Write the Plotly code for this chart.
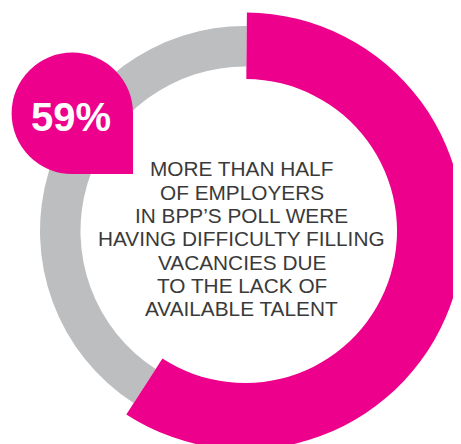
import plotly.graph_objects as go

# ---- data ----
categories = ["Having difficulty", "Other"]
values = [59, 41]
badge_label = "59%"
text_lines = [
    "MORE THAN HALF",
    "OF EMPLOYERS",
    "IN BPP\u2019S POLL WERE",
    "HAVING DIFFICULTY FILLING",
    "VACANCIES DUE",
    "TO THE LACK OF",
    "AVAILABLE TALENT",
]

MAGENTA = "#EC008C"
GREY = "#BCBEC0"
CLEAR = "rgba(0,0,0,0)"

W, H = 461, 444
OFF = 8                    # page body margin offset (px)
cx, cy = 245, 231          # ring centre (screen px)
r_mo, r_mi = 218.5, 152    # magenta ring radii
r_go, r_gi = 205, 164.5    # grey ring radii


def px(x):
    return (x - OFF) / W


def py(y):
    return 1 - (y - OFF) / H


def dom(r):
    return dict(x=[max(0, px(cx - r)), min(1, px(cx + r))],
                y=[max(0, py(cy + r)), min(1, py(cy - r))])


fig = go.Figure()
fig.add_trace(go.Pie(
    labels=categories, values=values, sort=False, direction="clockwise",
    rotation=0.5, hole=r_gi / r_go, domain=dom(r_go),
    marker=dict(colors=[CLEAR, GREY], line=dict(width=0)),
    textinfo="none", hoverinfo="skip", showlegend=False,
))
fig.add_trace(go.Pie(
    labels=categories, values=values, sort=False, direction="clockwise",
    rotation=0.5, hole=r_mi / r_mo, domain=dom(r_mo),
    marker=dict(colors=[MAGENTA, CLEAR], line=dict(width=0)),
    textinfo="none", hoverinfo="skip", showlegend=False,
))

# badge: circle with squared bottom-right quadrant
bx, by, br = 72.3, 113.3, 60.7
fig.add_shape(type="circle", xref="paper", yref="paper",
              x0=px(bx - br), x1=px(bx + br), y0=py(by + br), y1=py(by - br),
              fillcolor=MAGENTA, line=dict(width=0))
fig.add_shape(type="rect", xref="paper", yref="paper",
              x0=px(bx), x1=px(bx + br), y0=py(by + br), y1=py(by),
              fillcolor=MAGENTA, line=dict(width=0))

fig.add_annotation(x=px(71), y=py(117), xref="paper", yref="paper",
                   text=badge_label, showarrow=False,
                   xanchor="center", yanchor="middle",
                   font=dict(family="Liberation Sans", size=40, color="white",
                             weight="bold"))

for i, line in enumerate(text_lines):
    fig.add_annotation(x=px(241.5), y=py(169 + 23.3 * i), xref="paper", yref="paper",
                       text=line, showarrow=False,
                       xanchor="center", yanchor="middle",
                       font=dict(family="Liberation Sans", size=20.8, color="#3a3a3a"))

fig.update_layout(width=W, height=H, margin=dict(l=0, r=0, t=0, b=0),
                  paper_bgcolor="white", plot_bgcolor="white", showlegend=False)

fig.write_html("out.html")
